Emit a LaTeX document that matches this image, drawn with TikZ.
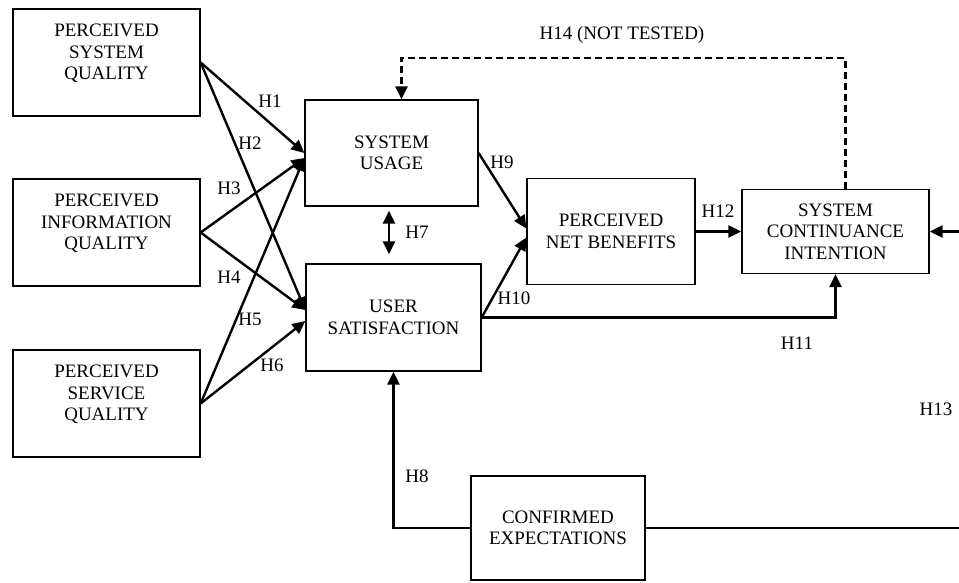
\documentclass[tikz,border=0pt]{standalone}
\usepackage{fontspec}
\setmainfont{Liberation Serif}
\usetikzlibrary{arrows.meta}
\tikzset{
  factor/.style={draw, line width=1.3pt, align=center, inner sep=0pt},
  link/.style={line width=2.4pt, -{Triangle[length=13pt,width=12pt]}},
  hyp/.style={inner sep=0pt},
}

\begin{document}
\begin{tikzpicture}[x=1pt, y=-1pt, font=\fontsize{19}{21.5}\selectfont]

    % Canvas
    \useasboundingbox (0,0) rectangle (959,582);
    \clip (0,0) rectangle (959,582);

    % Quality factors
    \node[factor, minimum width=187pt, minimum height=107pt] (sysq) at (106.5,62.5) {PERCEIVED\\SYSTEM\\QUALITY\\\mbox{}};
    \node[factor, minimum width=187pt, minimum height=107pt] (infq) at (106.5,232.5) {PERCEIVED\\INFORMATION\\QUALITY\\\mbox{}};
    \node[factor, minimum width=187pt, minimum height=107pt] (serq) at (106.5,403.5) {PERCEIVED\\SERVICE\\QUALITY\\\mbox{}};

    % Use and satisfaction
    \node[factor, minimum width=173pt, minimum height=106pt] (usage) at (391.5,153) {SYSTEM\\USAGE};
    \node[factor, minimum width=175pt, minimum height=107pt] (satis) at (393.5,317.5) {USER\\SATISFACTION};

    % Outcomes
    \node[factor, minimum width=168pt, minimum height=106pt] (bene) at (611,231.5) {PERCEIVED\\NET BENEFITS};
    \node[factor, minimum width=187pt, minimum height=84pt] (cont) at (835.5,231.5) {SYSTEM\\CONTINUANCE\\INTENTION};
    \node[factor, minimum width=174pt, minimum height=104pt] (conf) at (558,528) {CONFIRMED\\EXPECTATIONS};

    % Helper points
    \coordinate (edge) at (963,400);
    \coordinate (dashtop) at (622,58);

    % Quality links
    \draw[link] (sysq.east) -- (usage.west);
    \draw[link] (sysq.east) -- ([yshift=7.5pt]satis.west);
    \draw[link] (infq.east) -- ([yshift=-5pt]usage.west);
    \draw[link] (infq.east) -- ([yshift=7.5pt]satis.west);
    \draw[link] (serq.east) -- ([yshift=-5pt]usage.west);
    \draw[link] (serq.east) -- ([yshift=-3.5pt]satis.west);

    % Middle links
    \draw[link, {Triangle[length=13pt,width=12pt]}-{Triangle[length=13pt,width=12pt]}] ([xshift=-2.5pt, yshift=-4pt]usage.south) -- ([xshift=-4.5pt, yshift=9pt]satis.north);
    \draw[link] (usage.east) -- ([yshift=3pt]bene.west);
    \draw[link] (satis.east) -- ([yshift=-6pt]bene.west);
    \draw[link] (satis.east) -| (cont.south);
    \draw[link] (bene.east) -- (cont.west);
    \draw[link] (conf.west) -| (satis.south);
    \draw[link] (conf.east) -| (edge) |- (cont.east);
    \draw[link, dash pattern=on 7pt off 4pt] ([xshift=10pt]cont.north) |- (dashtop) -| ([xshift=10pt]usage.north);

    % Hypotheses
    \node[hyp] (h1) at (270,101) {H1};
    \node[hyp] (h2) at (250,143) {H2};
    \node[hyp] (h3) at (229,188) {H3};
    \node[hyp] (h4) at (229,277) {H4};
    \node[hyp] (h5) at (250,319) {H5};
    \node[hyp] (h6) at (272,365) {H6};
    \node[hyp] (h7) at (417,232) {H7};
    \node[hyp] (h8) at (417,476) {H8};
    \node[hyp] (h9) at (502,162) {H9};
    \node[hyp] (h10) at (514,298) {H10};
    \node[hyp] (h11) at (797,343) {H11};
    \node[hyp] (h12) at (718,211) {H12};
    \node[hyp] (h13) at (936,409) {H13};
    \node[hyp] (h14) at (622,35) {H14 (NOT TESTED)};

\end{tikzpicture}
\end{document}
